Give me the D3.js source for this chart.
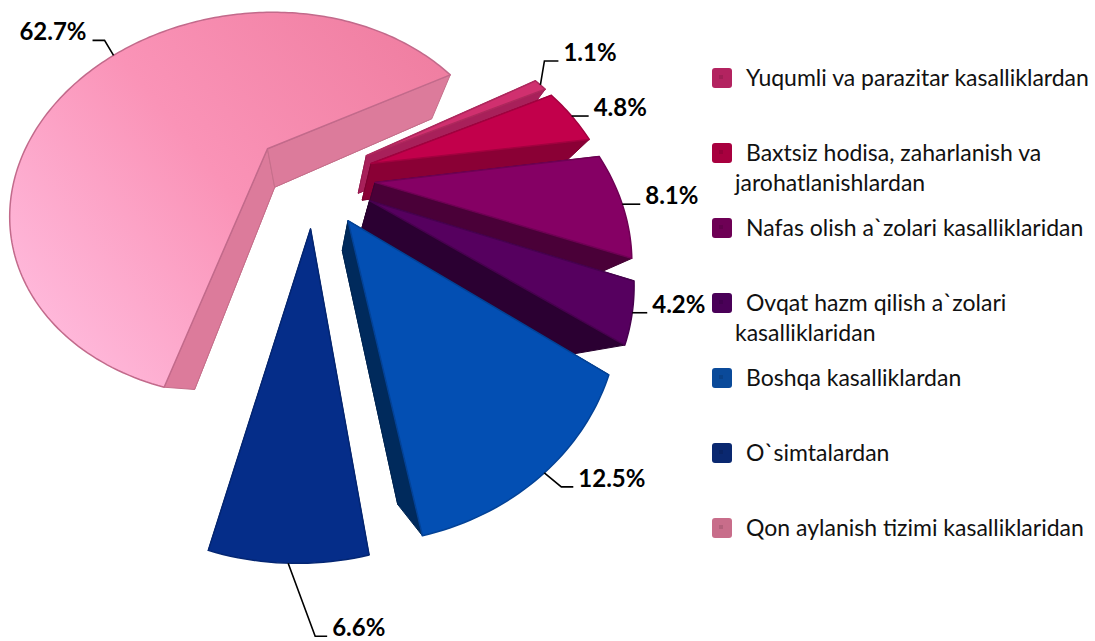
<!DOCTYPE html>
<html>
<head>
<meta charset="utf-8">
<script src="https://cdn.jsdelivr.net/npm/d3@7"></script>
<style>
  body { margin: 0; background: #fff; }
  text { font-family: Lato, "Open Sans", sans-serif; }
</style>
</head>
<body>
<div id="chart"></div>
<script>
// data
var categories = [
  "Yuqumli va parazitar kasalliklardan",
  " Baxtsiz hodisa, zaharlanish va\njarohatlanishlardan",
  "Nafas olish a`zolari kasalliklaridan",
  "Ovqat hazm qilish a`zolari\nkasalliklaridan",
  "Boshqa kasalliklardan",
  "O`simtalardan",
  "Qon aylanish tizimi kasalliklaridan"
];
var values = [1.1, 4.8, 8.1, 4.2, 12.5, 6.6, 62.7];
var valueLabels = ["1.1%", "4.8%", "8.1%", "4.2%", "12.5%", "6.6%", "62.7%"];

// styles
var topColors = ["#d0306f", "#c2004b", "#850064", "#56005f", "#034fb3", "#052d89", "#f489aa"];
var sideColors = ["#a8205a", "#8a0035", "#4a0038", "#2b0032", "#002a5c", "#001e58", "#dc7b9b"];
var legendColors = ["#b32360", "#a8003f", "#6e0055", "#4a0058", "#0a4a9a", "#0a2870", "#c86d8a"];

var svgWidth = 1095;
var svgHeight = 641;

var svg = d3.select("#chart")
  .append("svg")
  .attr("width", svgWidth)
  .attr("height", svgHeight);

// 3d look: pie plane tilted towards viewer, with perspective
var view = {x0: 314, y0: 177, kx: 245, ky: 223, dist: 1.68, elev: Math.asin(0.861), yaw: 0.04};
var explode = 0.25;
var depth = 0.37;
var theta0 = 60.6 * Math.PI / 180;

function project(u, v, z) {
  var n = Math.sin(view.elev), c = Math.cos(view.elev);
  var Y = v * n + z * c;
  var s = view.dist / (view.dist + v * c - z * n + u * view.yaw);
  return [view.x0 + view.kx * s * u, view.y0 - view.ky * s * Y];
}

var pie = d3.pie().sort(null).value(d => d)
  .startAngle(theta0).endAngle(theta0 + 2 * Math.PI);
var arcs = pie(values);

function offset(d) {
  var mid = (d.startAngle + d.endAngle) / 2;
  return [explode * Math.sin(mid), explode * Math.cos(mid)];
}

function face(d, z) {
  var o = offset(d);
  var steps = Math.max(2, Math.ceil((d.endAngle - d.startAngle) / 0.02));
  var pts = [project(o[0], o[1], z)];
  for (var i = 0; i <= steps; i++) {
    var a = d.startAngle + (d.endAngle - d.startAngle) * i / steps;
    pts.push(project(o[0] + Math.sin(a), o[1] + Math.cos(a), z));
  }
  return pts;
}

function cut(d, a) {
  var o = offset(d);
  return [
    project(o[0], o[1], 0),
    project(o[0] + Math.sin(a), o[1] + Math.cos(a), 0),
    project(o[0] + Math.sin(a), o[1] + Math.cos(a), -depth),
    project(o[0], o[1], -depth)
  ];
}

var line = d3.line().curve(d3.curveLinearClosed);

var defs = svg.append("defs");
var pinkGrad = defs.append("linearGradient")
  .attr("id", "pinkTop")
  .attr("gradientUnits", "userSpaceOnUse")
  .attr("x1", 430).attr("y1", 60).attr("x2", 60).attr("y2", 360);
pinkGrad.append("stop").attr("offset", 0).attr("stop-color", "#f07fa2");
pinkGrad.append("stop").attr("offset", 0.5).attr("stop-color", "#fa93b7");
pinkGrad.append("stop").attr("offset", 1).attr("stop-color", "#ffbadc");

// dark parts first (bottom + cut faces), then the top faces
var sides = svg.append("g").attr("class", "sides");
arcs.forEach(function(d, i) {
  var g = sides.append("g");
  var parts = [face(d, -depth), cut(d, d.startAngle), cut(d, d.endAngle)];
  g.selectAll("path")
    .data(parts)
    .enter()
    .append("path")
    .attr("d", p => line(p))
    .attr("fill", sideColors[i])
    .attr("stroke", d3.color(sideColors[i]).darker(0.3))
    .attr("stroke-width", 1)
    .attr("stroke-linejoin", "round");
});

var tops = svg.append("g").attr("class", "tops");
tops.selectAll("path")
  .data(arcs)
  .enter()
  .append("path")
  .attr("d", d => line(face(d, 0)))
  .attr("fill", (d, i) => i === 6 ? "url(#pinkTop)" : topColors[i])
  .attr("stroke", (d, i) => i === 6 ? "#c26a8b" : d3.color(topColors[i]).darker(0.5))
  .attr("stroke-width", 1.5)
  .attr("stroke-linejoin", "round");

// data labels with leader lines (elbow offset in px, then short horizontal)
var leaderBend = [[4, -24, 14], [0, 0, 17], [0, 0, 18], [0, 0, 15], [17, 14, 12], [27, 73, 12], [-9, -15, -12]];

var labels = svg.append("g").attr("class", "labels");
arcs.forEach(function(d, i) {
  var o = offset(d);
  var mid = (d.startAngle + d.endAngle) / 2;
  var a = project(o[0] + Math.sin(mid), o[1] + Math.cos(mid), 0);
  var b = [a[0] + leaderBend[i][0], a[1] + leaderBend[i][1]];
  var c = [b[0] + leaderBend[i][2], b[1]];
  labels.append("path")
    .attr("d", d3.line()([a, b, c]))
    .attr("fill", "none")
    .attr("stroke", "#000")
    .attr("stroke-width", 1.6);
  var right = leaderBend[i][2] > 0;
  labels.append("text")
    .attr("x", c[0] + (right ? 5 : -6))
    .attr("y", c[1])
    .attr("text-anchor", right ? "start" : "end")
    .attr("font-size", 24)
    .attr("font-weight", "bold")
    .attr("fill", "#000")
    .text(valueLabels[i]);
});

// legend
var legend = svg.append("g").attr("class", "legend");
var rowY = d3.scaleLinear().domain([0, 1]).range([78, 153]);
categories.forEach(function(name, i) {
  var y = rowY(i);
  var row = legend.append("g");
  row.append("rect")
    .attr("x", 712).attr("y", y - 10)
    .attr("width", 20).attr("height", 20)
    .attr("rx", 3)
    .attr("fill", legendColors[i]);
  row.append("rect")
    .attr("x", 719).attr("y", y - 3)
    .attr("width", 4).attr("height", 4)
    .attr("fill", d3.color(legendColors[i]).darker(0.6))
    .attr("opacity", 0.6);
  var lines = name.split("\n");
  var t = row.append("text")
    .attr("font-size", 23)
    .attr("fill", "#111");
  lines.forEach(function(ln, k) {
    t.append("tspan")
      .attr("x", k === 0 ? 746 : 735)
      .attr("y", y + 8 + k * 30)
      .text(ln.trim());
  });
});
</script>
</body>
</html>
